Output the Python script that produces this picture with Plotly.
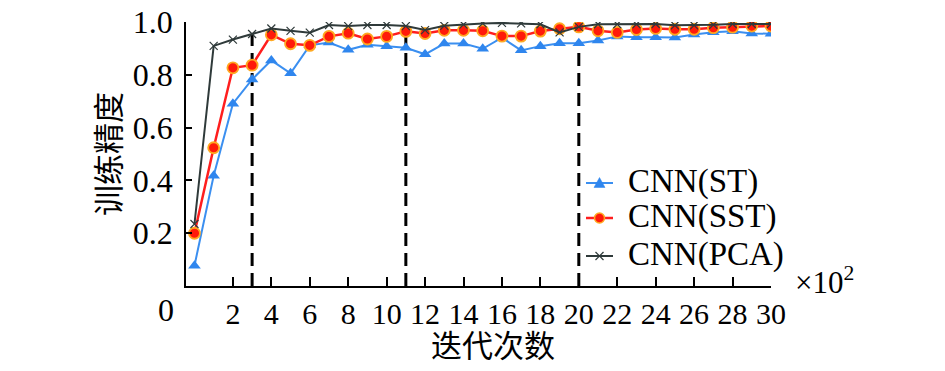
import plotly.graph_objects as go

# iterations (x100)
iters = list(range(0, 31))
acc_st = [0.077, 0.418, 0.691, 0.783, 0.855, 0.806, 0.912, 0.923, 0.895, 0.914,
          0.909, 0.903, 0.878, 0.919, 0.919, 0.899, 0.941, 0.893, 0.909, 0.920,
          0.920, 0.930, 0.946, 0.943, 0.943, 0.942, 0.953, 0.962, 0.965, 0.957, 0.956]
acc_sst = [0.200, 0.524, 0.827, 0.837, 0.952, 0.918, 0.912, 0.946, 0.958, 0.936,
           0.946, 0.965, 0.957, 0.969, 0.969, 0.967, 0.947, 0.947, 0.966, 0.975,
           0.982, 0.967, 0.961, 0.972, 0.976, 0.973, 0.973, 0.979, 0.981, 0.985, 0.985]
acc_pca = [0.235, 0.910, 0.934, 0.955, 0.976, 0.967, 0.960, 0.989, 0.985, 0.989,
           0.989, 0.985, 0.970, 0.986, 0.991, 0.995, 0.997, 0.995, 0.992, 0.961,
           0.982, 0.992, 0.992, 0.992, 0.993, 0.988, 0.988, 0.990, 0.993, 0.993, 0.993]
series_names = ["CNN(ST)", "CNN(SST)", "CNN(PCA)"]
stage_x = [3, 11, 20]
stage_top = [0.955, 0.966, 0.917]
x_ticks = list(range(2, 31, 2))
y_ticks = [0.2, 0.4, 0.6, 0.8, 1.0]
y_ticktext = ["0.2", "0.4", "0.6", "0.8", "1.0"]

SERIF = "Liberation Serif, Times New Roman, Noto Sans CJK SC, serif"
CJK = "Noto Sans CJK SC, Liberation Serif, serif"

C_ST = "#2f86ee"
C_SST = "#ff1e1e"
C_SST_EDGE = "#ffa820"
C_PCA = "#2f3a3a"

# plot area in window pixels (page has 8px body margin)
PL, PR, PT, PB = 186, 771, 22, 286


def px(x):
    return (x - PL) / (PR - PL)


def py(y):
    return (PB - y) / (PB - PT)


fig = go.Figure()

fig.add_trace(go.Scatter(
    x=iters, y=acc_st, name=series_names[0], mode="lines+markers",
    line=dict(color="#3b8ff0", width=2),
    marker=dict(symbol="triangle-up", size=11, color=C_ST),
))
fig.add_trace(go.Scatter(
    x=iters, y=acc_sst, name=series_names[1], mode="lines+markers",
    line=dict(color=C_SST, width=2.5),
    marker=dict(symbol="circle", size=11, color="#ff1a0a",
                line=dict(color=C_SST_EDGE, width=1.8)),
))
fig.add_trace(go.Scatter(
    x=iters, y=acc_pca, name=series_names[2], mode="lines+markers",
    line=dict(color=C_PCA, width=2),
    marker=dict(symbol="x-thin", size=8, color=C_PCA,
                line=dict(color=C_PCA, width=1.2)),
))

shapes = []
for xv, top in zip(stage_x, stage_top):
    shapes.append(dict(type="line", x0=xv, x1=xv, y0=0, y1=top, xref="x", yref="y",
                       line=dict(color="black", width=3, dash="13px,7px"), layer="below"))

# hand-made legend (samples + text)
leg_y = [183, 218, 256]
lx0, lx1, lxc = 586, 613, 599.5
shapes.append(dict(type="line", xref="paper", yref="paper", x0=px(lx0), x1=px(lx1),
                   y0=py(leg_y[0]), y1=py(leg_y[0]), line=dict(color="#3b8ff0", width=2)))
shapes.append(dict(type="path", xref="paper", yref="paper",
                   path=f"M {px(lxc-5.5)},{py(leg_y[0]+4.5)} L {px(lxc+5.5)},{py(leg_y[0]+4.5)} "
                        f"L {px(lxc)},{py(leg_y[0]-5.5)} Z",
                   fillcolor=C_ST, line=dict(color=C_ST, width=0.5)))
shapes.append(dict(type="line", xref="paper", yref="paper", x0=px(lx0), x1=px(lx1),
                   y0=py(leg_y[1]), y1=py(leg_y[1]), line=dict(color=C_SST, width=2.5)))
shapes.append(dict(type="circle", xref="paper", yref="paper",
                   x0=px(lxc-5), x1=px(lxc+5), y0=py(leg_y[1]+5), y1=py(leg_y[1]-5),
                   fillcolor="#ff1a0a", line=dict(color=C_SST_EDGE, width=1.5)))
shapes.append(dict(type="line", xref="paper", yref="paper", x0=px(lx0), x1=px(lx1),
                   y0=py(leg_y[2]), y1=py(leg_y[2]), line=dict(color=C_PCA, width=2)))
for dx in (-1, 1):
    shapes.append(dict(type="line", xref="paper", yref="paper",
                       x0=px(lxc-4), x1=px(lxc+4), y0=py(leg_y[2]-4*dx), y1=py(leg_y[2]+4*dx),
                       line=dict(color=C_PCA, width=1.2)))

annotations = [
    dict(text="迭代次数", x=px(493), y=py(343), xref="paper", yref="paper",
         showarrow=False, font=dict(family=CJK, size=31), xanchor="center", yanchor="middle"),
    dict(text="训练精度", x=px(106), y=py(154), xref="paper", yref="paper", textangle=-90,
         showarrow=False, font=dict(family=CJK, size=31), xanchor="center", yanchor="middle"),
    dict(text="0", x=px(166), y=py(310), xref="paper", yref="paper",
         showarrow=False, font=dict(family=SERIF, size=32), xanchor="center", yanchor="middle"),
    dict(text="×10<sup>2</sup>", x=px(825), y=py(280), xref="paper", yref="paper",
         showarrow=False, font=dict(family=SERIF, size=31), xanchor="center", yanchor="middle"),
]
for name, yy in zip(series_names, leg_y):
    annotations.append(dict(text=name, x=px(626), y=py(yy - 2), xref="paper", yref="paper",
                            showarrow=False, font=dict(family=SERIF, size=33),
                            xanchor="left", yanchor="middle"))

W, H = 937, 363
fig.update_layout(
    width=W, height=H,
    margin=dict(l=PL - 8, r=W - (PR - 8), t=PT - 8, b=H - (PB - 8), autoexpand=False),
    paper_bgcolor="white", plot_bgcolor="white",
    font=dict(family=SERIF, color="black", size=30),
    showlegend=False,
    xaxis=dict(range=[-0.44, 30.001], tickvals=x_ticks, ticktext=[str(v) for v in x_ticks],
               ticks="inside", ticklen=9, tickwidth=1.5, tickcolor="black",
               showline=True, linecolor="black", linewidth=1.5,
               showgrid=False, zeroline=False, automargin=False,
               tickfont=dict(family=SERIF, size=30), ticklabelstandoff=0,
               ticklabeloverflow="allow"),
    yaxis=dict(range=[0, 1.0005], tickvals=y_ticks, ticktext=y_ticktext,
               ticks="inside", ticklen=6, tickwidth=1.5, tickcolor="black",
               showline=True, linecolor="black", linewidth=1.5,
               showgrid=False, zeroline=False, automargin=False,
               tickfont=dict(family=SERIF, size=32), ticklabelstandoff=5,
               ticklabeloverflow="allow"),
    shapes=shapes,
    annotations=annotations,
)

fig.write_html("out.html")
